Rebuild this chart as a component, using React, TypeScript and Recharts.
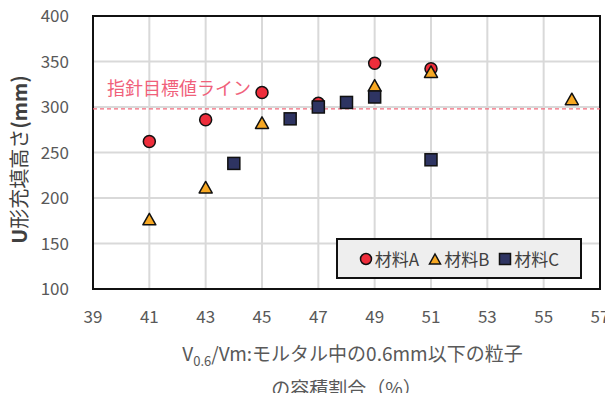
import {
  ScatterChart,
  Scatter,
  XAxis,
  YAxis,
  CartesianGrid,
  ReferenceLine,
  ReferenceArea,
  Label,
} from 'recharts'

const xTicks = [39, 41, 43, 45, 47, 49, 51, 53, 55, 57]
const yTicks = [100, 150, 200, 250, 300, 350, 400]

const materialA = [
  { x: 41, y: 262 },
  { x: 43, y: 286 },
  { x: 45, y: 316 },
  { x: 47, y: 304 },
  { x: 49, y: 348 },
  { x: 51, y: 342 },
]
const materialB = [
  { x: 41, y: 176 },
  { x: 43, y: 211 },
  { x: 45, y: 282 },
  { x: 49, y: 323 },
  { x: 51, y: 338 },
  { x: 56, y: 308 },
]
const materialC = [
  { x: 44, y: 238 },
  { x: 46, y: 287 },
  { x: 47, y: 300 },
  { x: 48, y: 305 },
  { x: 49, y: 311 },
  { x: 51, y: 242 },
]
const targetValue = 298
const targetLabel = '指針目標値ライン'

const FONT = '"Noto Sans CJK JP", "Noto Sans", sans-serif'
const RED = '#ee2d3b'
const ORANGE = '#f7a823'
const NAVY = '#2e3462'

const Circle = (props: any) => (
  <circle cx={props.cx} cy={props.cy} r={6} fill={RED} stroke="#111" strokeWidth={1.5} />
)
const Triangle = (props: any) => {
  const { cx, cy } = props
  return (
    <polygon
      points={`${cx},${cy - 6.5} ${cx + 6.5},${cy + 5} ${cx - 6.5},${cy + 5}`}
      fill={ORANGE}
      stroke="#111"
      strokeWidth={1.5}
      strokeLinejoin="round"
    />
  )
}
const Square = (props: any) => (
  <rect x={props.cx - 6} y={props.cy - 6} width={12} height={12} fill={NAVY} stroke="#111" strokeWidth={1.5} />
)

const legendItems = [
  { name: '材料A', shape: 'circle', color: RED },
  { name: '材料B', shape: 'triangle', color: ORANGE },
  { name: '材料C', shape: 'square', color: NAVY },
]

const LegendBox = () => (
  <div
    style={{
      position: 'absolute',
      left: 336,
      top: 238,
      width: 246,
      height: 41,
      boxSizing: 'border-box',
      display: 'flex',
      alignItems: 'center',
      justifyContent: 'center',
      gap: 9,
      background: '#eeeeee',
      border: '2px solid #111',
      fontFamily: FONT,
      fontSize: 17,
      color: '#404040',
    }}
  >
    {legendItems.map((item) => (
      <span key={item.name} style={{ display: 'flex', alignItems: 'center', gap: 2 }}>
        <svg width={14} height={14}>
          {item.shape === 'circle' && <circle cx={7} cy={7} r={5.5} fill={item.color} stroke="#111" strokeWidth={1.5} />}
          {item.shape === 'triangle' && (
            <polygon points="7,2 12.5,12 1.5,12" fill={item.color} stroke="#111" strokeWidth={1.5} />
          )}
          {item.shape === 'square' && <rect x={1.5} y={1.5} width={11} height={11} fill={item.color} stroke="#111" strokeWidth={1.5} />}
        </svg>
        {item.name}
      </span>
    ))}
  </div>
)

const XTitle = (props: any) => {
  const { viewBox } = props
  const cx = viewBox.x + viewBox.width / 2
  return (
    <text x={cx} textAnchor="middle" fill="#595959" fontFamily={FONT} fontSize={19}>
      <tspan x={cx + 6} y={361}>
        V<tspan fontSize={13} dy={5}>0.6</tspan>
        <tspan dy={-5}>/Vm:モルタル中の0.6mm以下の粒子</tspan>
      </tspan>
      <tspan x={cx} y={396}>の容積割合（%）</tspan>
    </text>
  )
}

const YTitle = (props: any) => {
  const { viewBox } = props
  const cy = viewBox.y + viewBox.height / 2 + 7
  const cx = 18
  return (
    <text
      x={cx}
      y={cy}
      transform={`rotate(-90, ${cx}, ${cy})`}
      textAnchor="middle"
      dominantBaseline="central"
      fill="#404040"
      fontFamily={FONT}
      fontSize={20}
    >
      <tspan fontWeight="bold">U</tspan>
      <tspan>形充填高さ</tspan>
      <tspan fontWeight="bold">(mm)</tspan>
    </text>
  )
}

const App = () => {
  return (
    <div style={{ position: 'relative', margin: -8, width: 613, height: 401, background: '#fff' }}>
      <ScatterChart width={613} height={401} margin={{ top: 16, right: 13, bottom: 0, left: 53 }}>
        <CartesianGrid stroke="#d9d9d9" strokeWidth={2} />
        <XAxis
          type="number"
          dataKey="x"
          domain={[39, 57]}
          ticks={xTicks}
          tickLine={false}
          axisLine={false}
          tick={{ fill: '#595959', fontSize: 17, fontFamily: FONT }}
          tickMargin={16}
          height={112}
        >
          <Label content={<XTitle />} />
        </XAxis>
        <YAxis
          type="number"
          dataKey="y"
          domain={[100, 400]}
          ticks={yTicks}
          tickLine={false}
          axisLine={false}
          tick={{ fill: '#595959', fontSize: 17, fontFamily: FONT }}
          tickMargin={18}
          width={40}
        >
          <Label content={<YTitle />} />
        </YAxis>
        <ReferenceArea x1={39} x2={57} y1={100} y2={400} fill="none" stroke="#111" strokeWidth={2} />
        <ReferenceLine
          y={targetValue}
          stroke="#f26b7c"
          strokeDasharray="4 3"
          strokeWidth={1.2}
          label={{
            value: targetLabel,
            position: 'insideBottomLeft',
            offset: 14,
            fill: '#f0607a',
            fontSize: 18,
            fontFamily: FONT,
          }}
        />
        <Scatter name="材料A" data={materialA} shape={Circle} isAnimationActive={false} />
        <Scatter name="材料B" data={materialB} shape={Triangle} isAnimationActive={false} />
        <Scatter name="材料C" data={materialC} shape={Square} isAnimationActive={false} />
      </ScatterChart>
      <LegendBox />
    </div>
  )
}

export default App
